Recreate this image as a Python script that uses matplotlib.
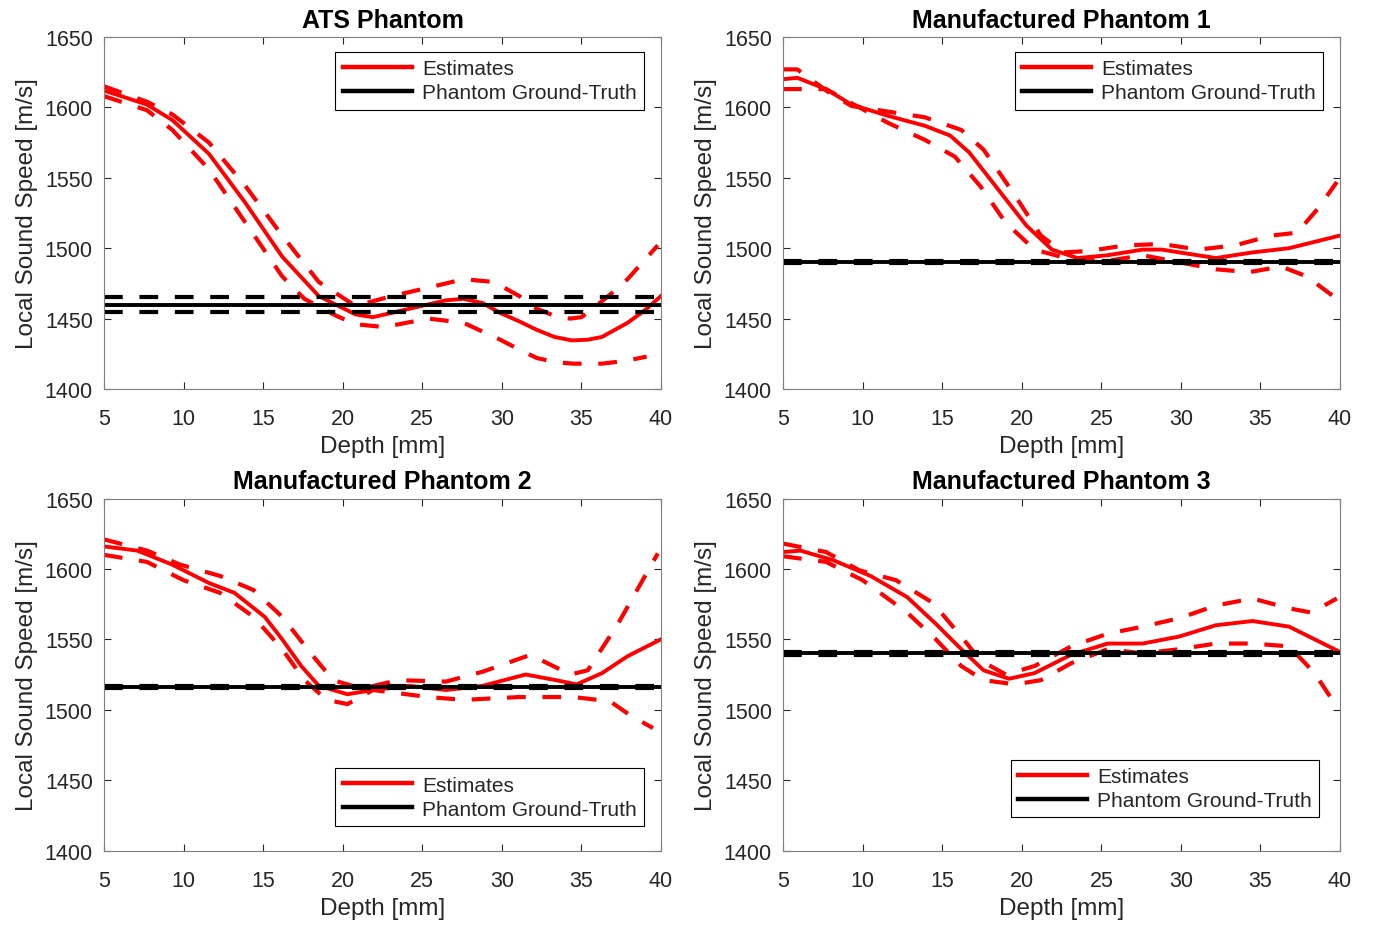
import matplotlib
matplotlib.use("Agg")
import matplotlib.pyplot as plt

plt.rcParams['font.family'] = ['Liberation Sans', 'DejaVu Sans']

# ATS Phantom
ats_gt = 1460
ats_gt_err = 5
ats_est_d = [5.0, 7.7, 9.3, 11.6, 13.9, 16.2, 18.5, 20.8, 21.9, 24.2, 26.5, 27.6, 28.8, 29.9, 31.1, 32.2, 33.3, 34.4, 35.4, 36.3, 37.9, 39.0, 40.0]
ats_est = [1612, 1602, 1591, 1567, 1532, 1494, 1466, 1453, 1451, 1457, 1463, 1464, 1461, 1454, 1448, 1442, 1437, 1434.5, 1435, 1437, 1447, 1456, 1466]
ats_hi_d = [5.0, 7.7, 9.3, 11.6, 13.9, 16.2, 18.5, 20.8, 23.1, 25.4, 27.6, 29.5, 31.1, 32.2, 33.3, 34.3, 35.0, 35.7, 36.8, 37.9, 39.8]
ats_hi = [1615, 1604, 1595, 1575, 1544, 1509, 1476, 1459, 1466, 1472, 1478, 1476, 1466, 1457, 1452, 1450, 1451, 1457, 1467, 1478, 1502]
ats_lo_d = [5.0, 7.7, 9.3, 11.6, 13.9, 16.2, 17.6, 19.6, 20.8, 22.6, 25.4, 27.6, 29.9, 31.1, 32.2, 33.4, 34.5, 36.3, 37.8, 39.1]
ats_lo = [1608, 1598, 1584, 1556, 1518, 1480, 1464, 1452, 1446, 1444, 1450, 1447, 1435, 1428, 1422, 1419, 1418, 1418, 1420, 1423]

# Manufactured Phantom 1
mp1_gt = 1490
mp1_gt_err = 0.8
mp1_est_d = [5.0, 5.9, 7.7, 9.3, 11.6, 13.9, 15.5, 16.7, 18.5, 20.3, 21.9, 23.5, 25.4, 27.6, 28.8, 29.9, 32.2, 34.5, 36.8, 40.0]
mp1_est = [1620, 1621, 1613, 1602, 1594, 1587, 1580, 1568, 1542, 1516, 1499, 1493, 1495, 1499, 1499, 1497, 1493, 1497, 1500, 1509]
mp1_hi_d = [5.0, 5.9, 7.7, 9.3, 11.6, 13.9, 16.2, 17.6, 19.6, 21.2, 22.6, 24.2, 26.5, 28.8, 31.1, 33.4, 35.7, 37.3, 38.6, 39.8]
mp1_hi = [1627, 1627, 1612, 1601, 1597, 1593, 1584, 1570, 1537, 1509, 1497, 1498, 1502, 1503, 1499, 1502, 1509, 1511, 1528, 1547]
mp1_lo_d = [5.0, 7.7, 9.3, 11.6, 13.9, 15.8, 17.4, 19.0, 20.8, 23.1, 25.4, 27.6, 29.9, 32.2, 34.3, 36.3, 37.9, 39.8]
mp1_lo = [1613, 1613, 1603, 1589, 1577, 1565, 1544, 1518, 1499, 1492, 1491, 1495, 1490, 1485, 1483, 1487, 1480, 1464]

# Manufactured Phantom 2
mp2_gt = 1516
mp2_gt_err = 0.8
mp2_est_d = [5.0, 7.1, 9.3, 11.6, 13.2, 15.1, 16.2, 17.4, 18.5, 20.3, 21.9, 24.2, 26.5, 28.8, 31.5, 33.4, 34.7, 36.3, 37.9, 40.0]
mp2_est = [1616, 1613, 1603, 1590, 1583, 1566, 1550, 1531, 1517, 1511, 1514, 1517, 1514, 1517, 1525, 1521, 1518, 1526, 1538, 1550]
mp2_hi_d = [5.0, 7.7, 9.8, 12.3, 14.4, 16.2, 18.0, 19.4, 21.2, 23.5, 26.5, 28.8, 31.8, 34.3, 35.4, 37.3, 38.6, 39.8]
mp2_hi = [1621, 1613, 1603, 1595, 1585, 1566, 1540, 1521, 1515, 1521, 1520, 1527, 1539, 1525, 1528, 1561, 1587, 1611]
mp2_lo_d = [5.0, 7.7, 10.0, 12.3, 14.4, 16.2, 17.6, 19.0, 20.3, 21.9, 25.4, 27.6, 31.1, 34.5, 36.8, 38.2, 39.5]
mp2_lo = [1610, 1605, 1592, 1583, 1566, 1543, 1521, 1507, 1504, 1514, 1509, 1507, 1509, 1509, 1506, 1495, 1487]

# Manufactured Phantom 3
mp3_gt = 1540
mp3_gt_err = 0.8
mp3_est_d = [5.0, 6.1, 8.2, 10.5, 12.8, 14.6, 16.2, 17.6, 19.2, 20.8, 23.1, 25.4, 27.6, 29.9, 32.2, 34.5, 36.8, 40.0]
mp3_est = [1612, 1613, 1606, 1595, 1580, 1561, 1543, 1528, 1522, 1526, 1539, 1547, 1547, 1552, 1560, 1563, 1559, 1541]
mp3_hi_d = [5.0, 7.7, 9.8, 12.1, 14.4, 16.2, 17.4, 19.0, 20.8, 23.1, 25.4, 27.6, 29.9, 32.2, 34.5, 36.8, 38.2, 39.8]
mp3_hi = [1618, 1612, 1599, 1592, 1576, 1552, 1535, 1525, 1531, 1545, 1554, 1559, 1565, 1574, 1579, 1572, 1569, 1579]
mp3_lo_d = [5.0, 7.7, 10.0, 12.8, 14.6, 16.2, 17.6, 19.6, 21.2, 23.1, 25.4, 27.6, 29.9, 32.2, 34.5, 36.8, 38.4, 39.8]
mp3_lo = [1609, 1605, 1592, 1569, 1550, 1531, 1521, 1518, 1521, 1533, 1543, 1540, 1543, 1547, 1547, 1545, 1526, 1502]

gt_d = [5, 40]

titles = ['ATS Phantom', 'Manufactured Phantom 1', 'Manufactured Phantom 2', 'Manufactured Phantom 3']
panels = [
    (ats_est_d, ats_est, ats_hi_d, ats_hi, ats_lo_d, ats_lo, ats_gt, ats_gt_err),
    (mp1_est_d, mp1_est, mp1_hi_d, mp1_hi, mp1_lo_d, mp1_lo, mp1_gt, mp1_gt_err),
    (mp2_est_d, mp2_est, mp2_hi_d, mp2_hi, mp2_lo_d, mp2_lo, mp2_gt, mp2_gt_err),
    (mp3_est_d, mp3_est, mp3_hi_d, mp3_hi, mp3_lo_d, mp3_lo, mp3_gt, mp3_gt_err),
]
positions = [
    [0.0757, 0.5802, 0.4057, 0.3789],
    [0.5703, 0.5802, 0.4057, 0.3789],
    [0.0757, 0.0834, 0.4057, 0.3789],
    [0.5703, 0.0834, 0.4057, 0.3789],
]
# legend corner anchors (axes fraction)
leg_locs = ['upper right', 'upper right', 'lower right', 'lower right']
leg_anchor = [(0.9695, 0.958), (0.9695, 0.958), (0.9695, 0.0695), (0.963, 0.094)]

fig = plt.figure(figsize=(13.73, 9.29), dpi=100)
grey = '#262626'
dash = (0, (4.5, 4))

for title, pos, p, loc, anc in zip(titles, positions, panels, leg_locs, leg_anchor):
    ed, e, hd, h, ld, l, gt, err = p
    ax = fig.add_axes(pos)
    est_line, = ax.plot(ed, e, color='red', lw=2.8)
    ax.plot(hd, h, color='red', lw=3.0, linestyle=dash)
    ax.plot(ld, l, color='red', lw=3.0, linestyle=dash)
    gt_line, = ax.plot(gt_d, [gt, gt], color='black', lw=2.8)
    ax.plot(gt_d, [gt + err, gt + err], color='black', lw=3.0, linestyle=dash)
    ax.plot(gt_d, [gt - err, gt - err], color='black', lw=3.0, linestyle=dash)

    ax.set_xlim(5, 40)
    ax.set_ylim(1400, 1650)
    ax.set_xticks([5, 10, 15, 20, 25, 30, 35, 40])
    ax.set_yticks([1400, 1450, 1500, 1550, 1600, 1650])
    ax.tick_params(direction='in', top=True, right=True, labelsize=15.5,
                   colors=grey, length=5, width=0.8)
    ax.tick_params(axis='x', pad=14)
    ax.tick_params(axis='y', pad=8)
    for s in ax.spines.values():
        s.set_color('#7f7f7f')
        s.set_linewidth(0.8)
    ax.set_title(title, fontsize=18, fontweight='bold', color='black', pad=7.5)
    ax.set_xlabel('Depth [mm]', fontsize=17.5, color=grey, labelpad=4)
    ax.set_ylabel('Local Sound Speed [m/s]', fontsize=17.5, color=grey, labelpad=5)
    leg = ax.legend([est_line, gt_line], ['Estimates', 'Phantom Ground-Truth'],
                    loc=loc, bbox_to_anchor=anc, fontsize=15, handlelength=3.3,
                    fancybox=False, edgecolor='black', framealpha=1, borderaxespad=0,
                    borderpad=0.35, labelspacing=0.25, handletextpad=0.5)
    leg.get_frame().set_linewidth(0.8)
    for line in leg.get_lines():
        line.set_linewidth(3.2)
    for t in leg.get_texts():
        t.set_color(grey)

fig.savefig('out.png', dpi=100)
